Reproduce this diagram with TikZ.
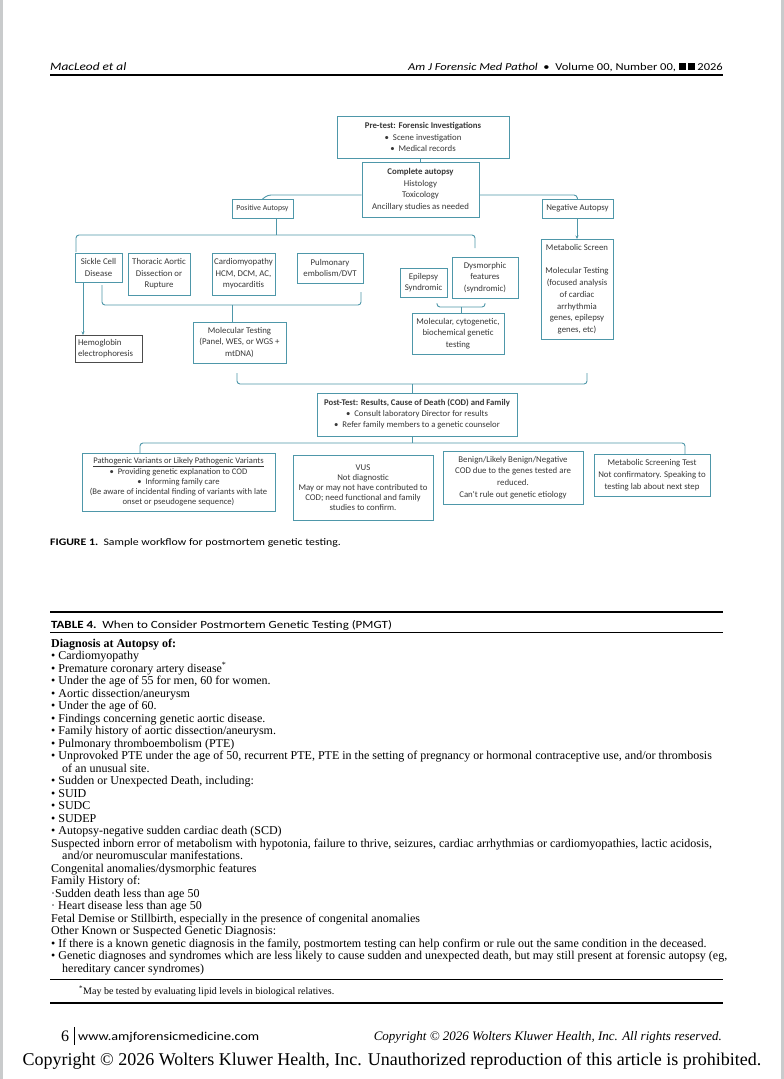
\documentclass[tikz,border=0pt]{standalone}
\usepackage{fontspec}
\setmainfont{Liberation Serif}
\newfontfamily\fc{Carlito}
\newfontfamily\wfc[FakeStretch=1.18]{Carlito}
\usetikzlibrary{arrows.meta}
\definecolor{tealc}{HTML}{4E97A9}
\definecolor{txt}{HTML}{383838}
\definecolor{edge}{HTML}{C9CBCC}
\newcommand\tabln[3]{\node[tab] (#1) at (51,#2) {#3};}
\begin{document}
\begin{tikzpicture}[x=1pt,y=-1pt,
  box/.style={draw=tealc, line width=0.9pt, align=center, text=txt, inner sep=1pt,
    font=\fc\fontsize{8.8}{11.5}\selectfont},
  ln/.style={draw=tealc, line width=0.9pt, rounded corners=3pt},
  arr/.style={draw=tealc, line width=0.9pt, -{Stealth[length=3.5pt,width=3pt]}},
  tab/.style={anchor=base west, inner sep=0pt, text=black, font=\fontsize{12}{12.5}\selectfont},
  plain/.style={inner sep=0pt, text=black}]
\path[use as bounding box] (0,0) rectangle (784,1079);
\fill[white] (0,0) rectangle (784,1079);
\fill[edge] (0,0) rectangle (3,1079);
\fill[edge] (781,0) rectangle (784,1079);

% header
\node[plain, anchor=base west, font=\wfc\itshape\fontsize{11.3}{11}\selectfont] (hl) at (50,70) {MacLeod et al};
\node[plain, anchor=base east, font=\wfc\fontsize{10.6}{10}\selectfont] (hr) at (723,70)
  {\itshape Am J Forensic Med Pathol\upshape\ \ •\ \ Volume 00, Number 00, \rule{7pt}{7pt}\,\rule{7pt}{7pt} 2026};
\draw[line width=1.1pt] (50,75) -- (723,75);

% flowchart boxes
\node[box, minimum width=172, minimum height=42] (pre) at (423,137)
  {\textbf{Pre-test: Forensic Investigations}\\ •\ \ Scene investigation\\ •\ \ Medical records};
\node[box, minimum width=117, minimum height=55] (auto) at (420.5,189.5)
  {\textbf{Complete autopsy}\\Histology\\Toxicology\\Ancillary studies as needed};
\node[box, minimum width=61, minimum height=19, font=\fc\fontsize{7.8}{10}\selectfont] (pos) at (262.5,208.5) {Positive Autopsy};
\node[box, minimum width=71, minimum height=19] (neg) at (577.5,208.5) {Negative Autopsy};
\node[box, minimum width=47, minimum height=29] (sickle) at (98.5,267.5) {Sickle Cell\\Disease};
\node[box, minimum width=62, minimum height=42] (thor) at (159,274) {Thoracic Aortic\\Dissection or\\Rupture};
\node[box, minimum width=63, minimum height=42] (cardio) at (243.5,274) {Cardiomyopathy\\HCM, DCM, AC,\\myocarditis};
\node[box, minimum width=66, minimum height=30] (pulm) at (330,268) {Pulmonary\\embolism/DVT};
\node[box, minimum width=47, minimum height=29] (epi) at (423.5,282.5) {Epilepsy\\Syndromic};
\node[box, minimum width=66, minimum height=41] (dys) at (485,277.5) {Dysmorphic\\features\\(syndromic)};
\node[box, minimum width=72, minimum height=100, font=\fc\fontsize{8.8}{11.8}\selectfont] (metab) at (577,289)
  {Metabolic Screen\\[11.8pt]Molecular Testing\\(focused analysis\\of cardiac\\arrhythmia\\genes, epilepsy\\genes, etc)};
\node[box, minimum width=93, minimum height=41] (molec) at (239.5,342.5) {Molecular Testing\\(Panel, WES,\ or WGS +\\mtDNA)};
\node[box, draw=black!70, align=left, text width=61, inner xsep=3pt, minimum height=27] (hemo) at (108.5,348.5) {Hemoglobin\\electrophoresis};
\node[box, minimum width=92, minimum height=41] (cyto) at (458,333.5) {Molecular, cytogenetic,\\biochemical genetic\\testing};
\node[box, minimum width=200, minimum height=43, font=\fc\fontsize{8.7}{11}\selectfont] (post) at (417,414.5)
  {\textbf{Post-Test: Results, Cause of Death (COD) and Family}\\ •\ \ Consult laboratory Director for results\\ •\ \ Refer family members to a genetic counselor};
\node[box, minimum width=193, minimum height=58, font=\fc\fontsize{8.6}{10.2}\selectfont] (path) at (178.5,482)
  {\underline{Pathogenic Variants or Likely Pathogenic Variants}\\[0.6pt] •\ \ Providing genetic explanation\ to COD\\ •\ \ Informing family care\\(Be aware of incidental finding of variants with late\\onset or\ pseudogene sequence)};
\node[box, minimum width=140, minimum height=65, font=\fc\fontsize{8.8}{10}\selectfont] (vus) at (363,487.5)
  {VUS\\Not diagnostic\\May or may not have contributed to\\COD;\ need functional and family\\studies to confirm.};
\node[box, minimum width=140, minimum height=53, font=\fc\fontsize{8.8}{11.7}\selectfont] (benign) at (513,477.5)
  {Benign/Likely Benign/Negative\\COD due to the genes tested are\\reduced.\\Can't rule out genetic etiology};
\node[box, minimum width=116, minimum height=42, font=\fc\fontsize{8.8}{11.7}\selectfont] (mst) at (652,475)
  {Metabolic Screening Test\\Not confirmatory. Speaking to\\testing lab about next step};

% connectors
\draw[ln] (pre.south -| auto.north) -- (auto.north);
\draw[ln] (auto.west |- 0,195) -- (268,195) -- (268,199 -| pos.north);
\draw[ln] (auto.east |- 0,195) -- (577,195) -- (577,199 -| neg.north);
\draw[ln] (276,218) -- (276,235);
\draw[ln] (76,252) -- (76,235) -- (475,235) -- (475,248);
\draw[ln] (102,285) -- (102,305) -- (361,305) -- (361,292);
\draw[ln] (232,305) -- (232,322);
\draw[arr] (83,282) -- (83,335);
\draw[ln] (437,303) -- (437,307) -- (485,307) -- (485,303);
\draw[ln] (461,307) -- (461,313);
\draw[arr] (577,218) -- (577,239);
\draw[ln] (237,373) -- (237,384) -- (587,384) -- (587,373);
\draw[ln] (412,384) -- (412,393);
\draw[ln] (412,436) -- (412,443);
\draw[ln] (140,453) -- (140,443) -- (685,443) -- (685,454);

% caption
\node[plain, anchor=base west, font=\wfc\fontsize{10}{10}\selectfont] (cap) at (50,545)
  {\textbf{FIGURE 1.}\ \ Sample workflow for postmortem genetic testing.};

% table
\draw[line width=1.3pt] (50,612) -- (723,612);
\node[plain, anchor=base west, font=\wfc\fontsize{11}{11}\selectfont] (ttl) at (51,628)
  {\textbf{TABLE 4.}\ \ When to Consider Postmortem Genetic Testing (PMGT)};
\draw[line width=0.8pt] (50,632) -- (723,632);
\tabln{t1}{647}{\textbf{Diagnosis at Autopsy of:}}
\tabln{t2}{659.5}{• Cardiomyopathy}
\tabln{t3}{672}{• Premature coronary artery disease\textsuperscript{*}}
\tabln{t4}{684.5}{• Under the age of 55 for men, 60 for women.}
\tabln{t5}{697}{• Aortic dissection/aneurysm}
\tabln{t6}{709.5}{• Under the age of 60.}
\tabln{t7}{722}{• Findings concerning genetic aortic disease.}
\tabln{t8}{734.5}{• Family history of aortic dissection/aneurysm.}
\tabln{t9}{747}{• Pulmonary thromboembolism (PTE)}
\tabln{t10}{759.5}{• Unprovoked PTE under the age of 50, recurrent PTE, PTE in the setting of pregnancy or hormonal contraceptive use, and/or thrombosis}
\tabln{t11}{772}{\hspace{11pt}of an unusual site.}
\tabln{t12}{784.5}{• Sudden or Unexpected Death, including:}
\tabln{t13}{797}{• SUID}
\tabln{t14}{809.5}{• SUDC}
\tabln{t15}{822}{• SUDEP}
\tabln{t16}{834.5}{• Autopsy-negative sudden cardiac death (SCD)}
\tabln{t17}{847}{Suspected inborn error of metabolism with hypotonia, failure to thrive, seizures, cardiac arrhythmias or cardiomyopathies, lactic acidosis,}
\tabln{t18}{859.5}{\hspace{11pt}and/or neuromuscular manifestations.}
\tabln{t19}{872}{Congenital anomalies/dysmorphic features}
\tabln{t20}{884.5}{Family History of:}
\tabln{t21}{897}{·Sudden death less than age 50}
\tabln{t22}{909.5}{· Heart disease less than age 50}
\tabln{t23}{922}{Fetal Demise or Stillbirth, especially in the presence of congenital anomalies}
\tabln{t24}{934.5}{Other Known or Suspected Genetic Diagnosis:}
\tabln{t25}{947}{• If there is a known genetic diagnosis in the family, postmortem testing can help confirm or rule out the same condition in the deceased.}
\tabln{t26}{959.5}{• Genetic diagnoses and syndromes which are less likely to cause sudden and unexpected death, but may still present at forensic autopsy (eg,}
\tabln{t27}{972}{\hspace{11pt}hereditary cancer syndromes)}
\draw[line width=0.8pt] (50,979) -- (723,979);
\node[plain, anchor=base west, font=\fontsize{10}{10}\selectfont] (fn) at (79,994)
  {\textsuperscript{*}May be tested by evaluating lipid levels in biological relatives.};
\draw[line width=1.3pt] (50,1003) -- (723,1003);

% footer
\node[plain, anchor=base west, font=\fontsize{16}{16}\selectfont] (pg) at (61,1041) {6};
\draw[line width=0.6pt] (74,1027) -- (74,1045);
\node[plain, anchor=base west, font=\wfc\fontsize{12}{12}\selectfont] (url) at (78,1040) {www.amjforensicmedicine.com};
\node[plain, anchor=base east, font=\itshape\fontsize{13}{13}\selectfont] (cr) at (722,1040)
  {Copyright © 2026 Wolters Kluwer Health, Inc. All rights reserved.};
\node[plain, anchor=base, font=\fontsize{18}{18}\selectfont] (bot) at (392,1065)
  {Copyright © 2026 Wolters Kluwer Health, Inc. Unauthorized reproduction of this article is prohibited.};
\end{tikzpicture}
\end{document}
